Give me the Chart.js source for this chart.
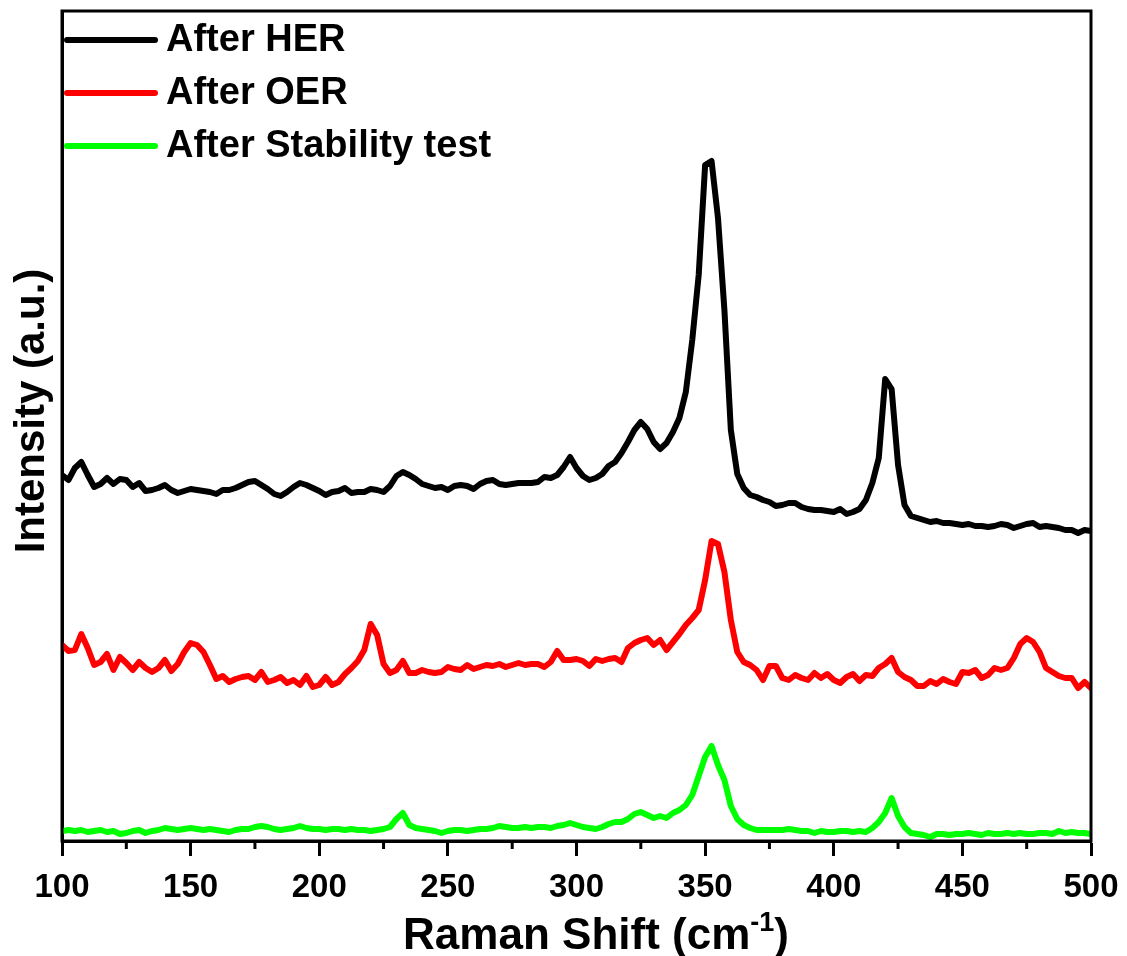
<!DOCTYPE html>
<html>
<head>
<meta charset="utf-8">
<script src="https://cdn.jsdelivr.net/npm/chart.js@4.4.1/dist/chart.umd.min.js"></script>
<style>
  html, body { margin: 0; padding: 0; background: #fff; }
  #wrap { width: 1127px; height: 956px; }
</style>
</head>
<body>
<div id="wrap"><canvas id="chart1"></canvas></div>
<script>
/* Raman spectra after HER / OER / stability test */

// x grid, Raman shift (cm-1)
const shift = [
  100, 102.5, 105, 107.5, 110, 112.5, 115, 117.5, 120, 122.5,
  125, 127.5, 130, 132.5, 135, 137.5, 140, 142.5, 145, 147.5,
  150, 152.5, 155, 157.5, 160, 162.5, 165, 167.5, 170, 172.5,
  175, 177.5, 180, 182.5, 185, 187.5, 190, 192.5, 195, 197.5,
  200, 202.5, 205, 207.5, 210, 212.5, 215, 217.5, 220, 222.5,
  225, 227.5, 230, 232.5, 235, 237.5, 240, 242.5, 245, 247.5,
  250, 252.5, 255, 257.5, 260, 262.5, 265, 267.5, 270, 272.5,
  275, 277.5, 280, 282.5, 285, 287.5, 290, 292.5, 295, 297.5,
  300, 302.5, 305, 307.5, 310, 312.5, 315, 317.5, 320, 322.5,
  325, 327.5, 330, 332.5, 335, 337.5, 340, 342.5, 345, 347.5,
  350, 352.5, 355, 357.5, 360, 362.5, 365, 367.5, 370, 372.5,
  375, 377.5, 380, 382.5, 385, 387.5, 390, 392.5, 395, 397.5,
  400, 402.5, 405, 407.5, 410, 412.5, 415, 417.5, 420, 422.5,
  425, 427.5, 430, 432.5, 435, 437.5, 440, 442.5, 445, 447.5,
  450, 452.5, 455, 457.5, 460, 462.5, 465, 467.5, 470, 472.5,
  475, 477.5, 480, 482.5, 485, 487.5, 490, 492.5, 495, 497.5,
  500
];

// intensities (a.u., offset stacked as in the figure)
const afterHER = [
  366, 361, 373, 379, 366, 354, 357, 363, 357, 362,
  361, 354, 358, 350, 351, 353, 356, 351, 348, 350,
  352, 351, 350, 349, 347, 351, 351, 353, 356, 359,
  360, 356, 352, 347, 345, 349, 354, 358, 356, 353,
  350, 346, 349, 350, 353, 348, 349, 349, 352, 351,
  349, 355, 365, 369, 366, 362, 357, 355, 353, 354,
  351, 355, 356, 355, 352, 357, 360, 361, 357, 356,
  357, 358, 358, 358, 359, 364, 363, 366, 374, 384,
  373, 365, 361, 363, 367, 375, 379, 388, 399, 411,
  419, 412, 399, 392, 398, 409, 423, 449, 501, 566,
  676, 680, 623, 531, 411, 367, 353, 346, 344, 341,
  339, 335, 336, 338, 338, 334, 332, 331, 331, 330,
  329, 332, 327, 329, 332, 341, 358, 383, 462, 452,
  376, 336, 325, 323, 321, 319, 320, 318, 318, 317,
  316, 317, 315, 315, 314, 315, 317, 316, 313, 315,
  317, 318, 314, 315, 314, 313, 311, 311, 308, 311,
  310
];

const afterOER = [
  196, 190, 191, 207, 193, 176, 179, 187, 171, 184,
  178, 171, 179, 173, 169, 173, 181, 170, 177, 189,
  198, 196, 189, 176, 162, 165, 159, 162, 164, 165,
  161, 169, 159, 161, 164, 158, 161, 156, 165, 154,
  156, 164, 156, 159, 167, 173, 180, 191, 217, 206,
  177, 168, 171, 180, 168, 168, 171, 169, 168, 169,
  174, 172, 171, 176, 172, 174, 176, 175, 177, 174,
  176, 178, 176, 177, 177, 174, 179, 190, 181, 181,
  182, 180, 175, 182, 180, 182, 183, 179, 193, 198,
  201, 203, 196, 201, 191, 199, 207, 216, 223, 231,
  261, 300, 297, 269, 221, 189, 179, 176, 171, 161,
  175, 175, 163, 161, 166, 163, 161, 168, 163, 167,
  161, 158, 164, 167, 160, 166, 165, 173, 177, 183,
  169, 164, 161, 155, 155, 160, 157, 162, 159, 157,
  169, 168, 171, 163, 166, 173, 171, 173, 183, 197,
  203, 199, 189, 173, 169, 165, 163, 163, 153, 159,
  153
];

const afterStability = [
  10, 11, 10, 11, 9, 10, 11, 9, 10, 7,
  8, 10, 11, 8, 10, 11, 13, 12, 11, 12,
  13, 12, 11, 12, 11, 10, 9, 11, 12, 12,
  14, 15, 14, 12, 11, 12, 13, 15, 13, 12,
  12, 11, 12, 12, 11, 12, 11, 11, 10, 11,
  12, 14, 22, 28, 16, 13, 12, 11, 10, 8,
  10, 11, 11, 10, 11, 12, 12, 13, 15, 14,
  13, 13, 14, 13, 14, 14, 13, 15, 16, 18,
  16, 14, 13, 12, 14, 17, 19, 19, 22, 27,
  29, 26, 23, 25, 23, 28, 31, 36, 46, 65,
  84, 95, 76, 61, 35, 22, 16, 13, 11, 11,
  11, 11, 11, 12, 11, 10, 10, 8, 10, 9,
  9, 10, 10, 9, 10, 9, 13, 19, 28, 43,
  25, 14, 8, 7, 6, 4, 7, 7, 6, 7,
  7, 8, 7, 6, 8, 7, 7, 8, 7, 8,
  7, 7, 8, 8, 7, 10, 8, 9, 8, 8,
  7
];

const seriesLabels = ['After HER', 'After OER', 'After Stability test'];
const seriesColors = ['#000000', '#ff0000', '#00ff00'];
const seriesValues = [afterHER, afterOER, afterStability];

const FONT = "'Liberation Sans', Arial, sans-serif";
const ctx = document.getElementById('chart1');

// box round the plot, minor ticks, legend and axis titles
const decorations = {
    id: 'decorations',
    afterDraw(chart) {
        const c = chart.ctx;
        const area = chart.chartArea;
        const xs = chart.scales.x;
        c.save();
        c.strokeStyle = '#000';
        c.lineWidth = 3;
        c.strokeRect(area.left, area.top, area.right - area.left, area.bottom - area.top);

        // minor ticks
        xs.ticks.forEach(t => {
            if (t.value % 50 !== 0) {
                const px = xs.getPixelForValue(t.value);
                c.beginPath();
                c.moveTo(px, area.bottom);
                c.lineTo(px, area.bottom + 8);
                c.stroke();
            }
        });

        // legend
        c.font = 'bold 38px ' + FONT;
        c.textBaseline = 'middle';
        c.lineCap = 'round';
        chart.data.datasets.forEach((ds, i) => {
            const y = 40 + i * 53;
            c.strokeStyle = ds.borderColor;
            c.lineWidth = 6;
            c.beginPath();
            c.moveTo(67, y);
            c.lineTo(155, y);
            c.stroke();
            c.fillStyle = '#000';
            c.fillText(ds.label, 166, y + 1);
        });

        // x title with superscript
        c.textBaseline = 'alphabetic';
        c.fillStyle = '#000';
        const big = 'bold 44px ' + FONT;
        const small = 'bold 27px ' + FONT;
        c.font = big;
        const w1 = c.measureText('Raman Shift (cm').width;
        const w3 = c.measureText(')').width;
        c.font = small;
        const w2 = c.measureText('-1').width;
        let x0 = 596 - (w1 + w2 + w3) / 2;
        const base = 949;
        c.font = big;
        c.fillText('Raman Shift (cm', x0, base);
        c.font = small;
        c.fillText('-1', x0 + w1, base - 18);
        c.font = big;
        c.fillText(')', x0 + w1 + w2, base);

        // y title
        c.translate(32, 411);
        c.rotate(-Math.PI / 2);
        c.textAlign = 'center';
        c.textBaseline = 'middle';
        c.font = 'bold 42px ' + FONT;
        c.fillText('Intensity (a.u.)', 0, 0);
        c.restore();
    }
};

new Chart(ctx, {
    type: 'line',
    data: {
        datasets: seriesValues.map((vals, i) => ({
            label: seriesLabels[i],
            data: vals.map((v, j) => ({ x: shift[j], y: v })),
            borderColor: seriesColors[i],
            borderWidth: 6,
            borderJoinStyle: 'round',
            borderCapStyle: 'round',
            pointRadius: 0,
            tension: 0,
            fill: false
        }))
    },
    options: {
        responsive: true,
        maintainAspectRatio: false,
        animation: false,
        layout: { padding: { top: 11, right: 36, left: 0, bottom: 0 } },
        plugins: {
            legend: { display: false },
            tooltip: { enabled: false }
        },
        scales: {
            x: {
                type: 'linear',
                min: 100,
                max: 500,
                afterFit: s => { s.height = 115; s.paddingLeft = 0; s.paddingRight = 0; },
                border: { display: true, color: '#000', width: 3 },
                grid: {
                    drawOnChartArea: false,
                    tickLength: 15,
                    tickWidth: 3,
                    tickColor: c => (c.tick && c.tick.value % 50 !== 0) ? 'rgba(0,0,0,0)' : '#000'
                },
                ticks: {
                    stepSize: 25,
                    autoSkip: false,
                    maxRotation: 0,
                    padding: 12,
                    color: '#000',
                    font: { family: FONT, size: 33, weight: 'bold' },
                    callback: v => (v % 50 === 0 ? v : '')
                }
            },
            y: {
                min: 0,
                max: 830,
                afterFit: s => { s.width = 62; },
                border: { display: true, color: '#000', width: 3 },
                grid: { display: false },
                ticks: { display: false }
            }
        }
    },
    plugins: [decorations]
});
</script>
</body>
</html>
